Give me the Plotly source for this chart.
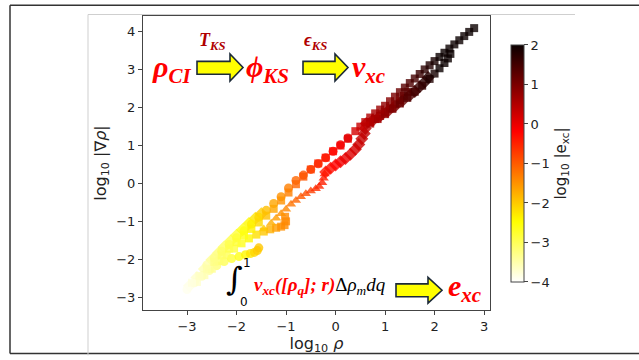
import plotly.graph_objects as go

# ---------------- data ----------------
# long square series (reaches the top right)
sq_long_x = [-2.9, -2.75, -2.6, -2.45, -2.3, -2.15, -2.0, -1.85, -1.7, -1.55, -1.4, -1.25, -1.1, -0.95,
             -0.8, -0.65, -0.5, -0.35, -0.2, -0.05, 0.1, 0.25, 0.4, 0.5, 0.6, 0.7, 0.8, 0.9, 1.0, 1.1,
             1.2, 1.3, 1.4, 1.5, 1.6, 1.7, 1.8, 1.9, 2.0, 2.1, 2.2, 2.3, 2.4, 2.5, 2.6, 2.7, 2.8]
sq_long_y = [-2.62, -2.44, -2.25, -2.07, -1.9, -1.72, -1.55, -1.37, -1.2, -1.03, -0.85, -0.67, -0.45, -0.24,
             -0.02, 0.18, 0.37, 0.53, 0.68, 0.85, 1.0, 1.18, 1.38, 1.5, 1.62, 1.74, 1.85, 1.95, 2.05, 2.17,
             2.29, 2.41, 2.53, 2.65, 2.77, 2.89, 3.01, 3.12, 3.23, 3.34, 3.45, 3.56, 3.67, 3.78, 3.89, 4.0, 4.1]
sq_long_c = [-3.8, -3.65, -3.5, -3.28, -3.1, -2.95, -2.8, -2.58, -2.35, -2.13, -1.9, -1.68, -1.5, -1.33,
             -1.1, -0.95, -0.75, -0.55, -0.4, -0.25, -0.1, 0.05, 0.2, 0.3, 0.4, 0.5, 0.6, 0.7, 0.8, 0.9,
             1.0, 1.15, 1.3, 1.4, 1.5, 1.6, 1.7, 1.8, 1.9, 2.0, 2.0, 2.0, 2.0, 2.0, 2.0, 2.0, 2.0]

# circles on the upper edge of the band
circ_up_x = [-2.6, -2.45, -2.3, -2.15, -2.0, -1.85, -1.7, -1.55, -1.4, -1.25, -1.1, -0.95, -0.8, -0.65,
             -0.5, -0.35, -0.2, -0.05, 0.1, 0.25]
circ_up_y = [-2.15, -1.97, -1.79, -1.61, -1.43, -1.25, -1.07, -0.89, -0.71, -0.53, -0.35, -0.12, 0.08, 0.22,
             0.37, 0.52, 0.68, 0.85, 1.02, 1.2]
circ_up_c = [-3.5, -3.28, -3.1, -2.95, -2.8, -2.58, -2.35, -2.13, -1.9, -1.68, -1.5, -1.33, -1.1, -0.95,
             -0.75, -0.55, -0.4, -0.25, -0.1, 0.05]

# circles ending in a shelf near log rho = -1.6
circ_hook_x = [-3.0, -2.85, -2.7, -2.55, -2.4, -2.25, -2.1, -1.95, -1.82, -1.72, -1.64, -1.58, -1.55]
circ_hook_y = [-2.8, -2.62, -2.45, -2.3, -2.17, -2.06, -1.98, -1.93, -1.88, -1.85, -1.82, -1.77, -1.7]
circ_hook_c = [-3.9, -3.75, -3.6, -3.43, -3.2, -3.0, -2.8, -2.6, -2.4, -2.25, -2.12, -2.02, -1.97]

# squares ending in a shelf near log rho = -1.0
sq_hook_x = [-2.8, -2.65, -2.5, -2.35, -2.2, -2.05, -1.9, -1.75, -1.6, -1.45, -1.32, -1.2, -1.1, -1.03, -1.0, -1.02]
sq_hook_y = [-2.6, -2.42, -2.25, -2.05, -1.88, -1.72, -1.58, -1.45, -1.35, -1.27, -1.21, -1.17, -1.14, -1.1, -1.0, -0.88]
sq_hook_c = [-3.7, -3.55, -3.35, -3.15, -3.0, -2.85, -2.65, -2.43, -2.2, -1.98, -1.78, -1.6, -1.5, -1.43, -1.4, -1.42]

# triangles on the lower band, shelf near log rho = -0.25
tri_x = [-1.45, -1.3, -1.2, -1.1, -1.0, -0.9, -0.8, -0.7, -0.6, -0.5, -0.4, -0.33, -0.27, -0.24, -0.22]
tri_y = [-1.2, -1.05, -0.92, -0.8, -0.68, -0.55, -0.45, -0.35, -0.27, -0.2, -0.14, -0.08, 0.02, 0.14, 0.25]
tri_c = [-1.98, -1.75, -1.6, -1.5, -1.4, -1.25, -1.1, -1.0, -0.9, -0.75, -0.6, -0.53, -0.47, -0.44, -0.42]

# diamonds on the lower band, shelf near log rho = 0.6, ending at 1.87
dia_low_x = [-0.2, -0.1, 0.0, 0.1, 0.2, 0.3, 0.4, 0.47, 0.53, 0.58, 0.6, 0.62, 0.75, 0.9, 1.05, 1.2,
             1.35, 1.5, 1.6, 1.7, 1.8, 1.87]
dia_low_y = [0.3, 0.4, 0.49, 0.57, 0.66, 0.77, 0.9, 1.03, 1.18, 1.32, 1.45, 1.58, 1.66, 1.78, 1.9, 2.04,
             2.18, 2.33, 2.43, 2.55, 2.68, 2.8]
dia_low_c = [-0.4, -0.3, -0.2, -0.1, 0.0, 0.1, 0.2, 0.27, 0.33, 0.38, 0.4, 0.42, 0.55, 0.7, 0.85, 1.0,
             1.2, 1.4, 1.5, 1.6, 1.7, 1.77]

# squares ending near log rho = 2.3
sq_mid_x = [0.7, 0.85, 1.0, 1.15, 1.3, 1.45, 1.6, 1.75, 1.9, 2.0, 2.1, 2.2, 2.27, 2.32]
sq_mid_y = [1.58, 1.7, 1.83, 1.97, 2.11, 2.26, 2.42, 2.58, 2.76, 2.9, 3.04, 3.18, 3.3, 3.42]
sq_mid_c = [0.5, 0.65, 0.8, 0.95, 1.15, 1.35, 1.5, 1.65, 1.8, 1.9, 2.0, 2.0, 2.0, 2.0]

# squares ending near log rho = 1.46
sq_short_x = [0.7, 0.8, 0.9, 1.0, 1.1, 1.2, 1.3, 1.38, 1.46]
sq_short_y = [1.62, 1.7, 1.78, 1.88, 1.98, 2.09, 2.2, 2.31, 2.42]
sq_short_c = [0.5, 0.6, 0.7, 0.8, 0.9, 1.0, 1.15, 1.25, 1.35]

# diamonds in the low-density tail
dia_tail_x = [-2.95, -2.8, -2.65, -2.5, -2.37, -2.25, -2.12, -2.0, -1.88, -1.75, -1.62, -1.5]
dia_tail_y = [-2.7, -2.48, -2.26, -2.02, -1.84, -1.68, -1.52, -1.37, -1.22, -1.06, -0.92, -0.8]
dia_tail_c = [-3.85, -3.7, -3.55, -3.35, -3.18, -3.05, -2.92, -2.8, -2.6, -2.43, -2.25, -2.05]

x_ticks = [-3, -2, -1, 0, 1, 2, 3]
y_ticks = [-3, -2, -1, 0, 1, 2, 3, 4]
c_ticks = [-4, -3, -2, -1, 0, 1, 2]

# ---------------- layout helpers (pixel -> paper) ----------------
W, H = 639, 360
L, R, T, B = 143, 490, 16, 314


def fx(p):
    return (p - L) / (R - L)


def fy(p):
    return 1 - (p - T) / (B - T)


hot_r = [[0.0, "rgb(255,255,255)"], [0.254, "rgb(255,255,0)"],
         [0.635, "rgb(255,0,0)"], [1.0, "rgb(11,0,0)"]]

series = [
    (dia_tail_x, dia_tail_y, dia_tail_c, "diamond", 10),
    (circ_hook_x, circ_hook_y, circ_hook_c, "circle", 9),
    (sq_hook_x, sq_hook_y, sq_hook_c, "square", 8),
    (circ_up_x, circ_up_y, circ_up_c, "circle", 9),
    (tri_x, tri_y, tri_c, "triangle-up", 9),
    (dia_low_x, dia_low_y, dia_low_c, "diamond", 10),
    (sq_short_x, sq_short_y, sq_short_c, "square", 8),
    (sq_mid_x, sq_mid_y, sq_mid_c, "square", 8),
    (sq_long_x, sq_long_y, sq_long_c, "square", 8),
]

fig = go.Figure()
for xs, ys, cs, sym, sz in series:
    fig.add_trace(go.Scatter(
        x=xs, y=ys, mode="markers",
        marker=dict(symbol=sym, size=sz, color=cs, coloraxis="coloraxis",
                    opacity=0.8, line=dict(width=0)),
        showlegend=False, hoverinfo="skip"))

axis_common = dict(showgrid=False, zeroline=False, showline=True, mirror=True,
                   linecolor="#444", linewidth=1, ticks="outside", ticklen=4,
                   tickcolor="#444", tickfont=dict(family="DejaVu Sans", size=13, color="#222"))

fig.update_layout(
    width=W, height=H,
    margin=dict(l=L, r=W - R, t=T, b=H - B, pad=0),
    paper_bgcolor="white", plot_bgcolor="white",
    xaxis=dict(range=[-3.89, 3.12], tickvals=x_ticks,
               title=dict(text="log<sub>10</sub> <i>ρ</i>", standoff=3,
                          font=dict(family="DejaVu Sans", size=16, color="#222")),
               **axis_common),
    yaxis=dict(range=[-3.34, 4.42], tickvals=y_ticks,
               title=dict(text="log<sub>10</sub> |∇<i>ρ</i>|", standoff=5,
                          font=dict(family="DejaVu Sans", size=16, color="#222")),
               **axis_common),
    coloraxis=dict(
        colorscale=hot_r, cmin=-4, cmax=2,
        colorbar=dict(x=fx(511), xanchor="left", y=fy(165.5), yanchor="middle",
                      thickness=13, thicknessmode="pixels", len=237, lenmode="pixels",
                      outlinewidth=1, outlinecolor="#444", xpad=0, ypad=0,
                      tickvals=c_ticks, ticks="outside", ticklen=4, tickcolor="#444",
                      tickfont=dict(family="DejaVu Sans", size=13, color="#222"),
                      title=dict(text="log<sub>10</sub> |e<sub>xc</sub>|", side="right",
                                 font=dict(family="DejaVu Sans", size=15, color="#222")))),
)


def arrow(x0, xh, xt, yb0, yb1, yh0, yh1):
    ym = (yh0 + yh1) / 2
    pts = [(x0, yb0), (xh, yb0), (xh, yh0), (xt, ym), (xh, yh1), (xh, yb1), (x0, yb1)]
    path = "M " + " L ".join(f"{fx(a):.5f},{fy(b):.5f}" for a, b in pts) + " Z"
    fig.add_shape(type="path", path=path, xref="paper", yref="paper",
                  fillcolor="#ffff00", line=dict(color="#1c2a38", width=1.6), layer="above")


arrow(197, 230, 243, 62, 75, 54.5, 82)
arrow(303, 335, 348, 62, 75, 54.5, 82)
arrow(396, 428, 442, 287.5, 300.5, 281, 307)


# frame lines of the screenshot
def line(x0, y0, x1, y1, color, width):
    fig.add_shape(type="line", xref="paper", yref="paper",
                  x0=fx(x0), y0=fy(y0), x1=fx(x1), y1=fy(y1),
                  line=dict(color=color, width=width), layer="above")


line(10, 5, 639, 5, "#333", 1.5)
line(10, 5, 10, 358, "#333", 1.5)
line(10, 358, 639, 358, "#333", 1.5)
line(88, 14.5, 575, 14.5, "#cfcfcf", 1)
line(88, 14.5, 88, 360, "#cfcfcf", 1)

SERIF = "Liberation Serif"
RED = "#ff0000"
DRED = "#b00000"


def ann(text, px, py, size, color, xanchor="left", family=SERIF):
    fig.add_annotation(text=text, x=fx(px), y=fy(py), xref="paper", yref="paper",
                       xanchor=xanchor, yanchor="middle", showarrow=False,
                       font=dict(family=family, size=size, color=color))


ann("<b><i>ρ<sub>CI</sub></i></b>", 150, 70, 30, RED)
ann("<b><i>ϕ<sub>KS</sub></i></b>", 244, 70, 30, RED)
ann("<b><i>v<sub>xc</sub></i></b>", 350, 70, 30, RED)
ann("<b><i>T<sub>KS</sub></i></b>", 197, 42, 18, DRED)
ann("<b><i>ϵ<sub>KS</sub></i></b>", 302, 42, 18, DRED)
ann("<b><i>e<sub>xc</sub></i></b>", 446, 292, 30, RED)

ann("∫", 234, 283, 32, "#000", xanchor="center", family="DejaVu Serif")
ann("1", 247, 266, 12, "#000", xanchor="center", family="DejaVu Sans")
ann("0", 244, 306, 12, "#000", xanchor="center", family="DejaVu Sans")
ann("<span style='color:#ff0000'><b><i>v<sub>xc</sub>([ρ<sub>q</sub>]; r)</i></b></span>"
    "<span style='color:#000000'>Δ<i>ρ<sub>m</sub>dq</i></span>", 252, 290, 19, "#000")

fig.write_html("out.html")
